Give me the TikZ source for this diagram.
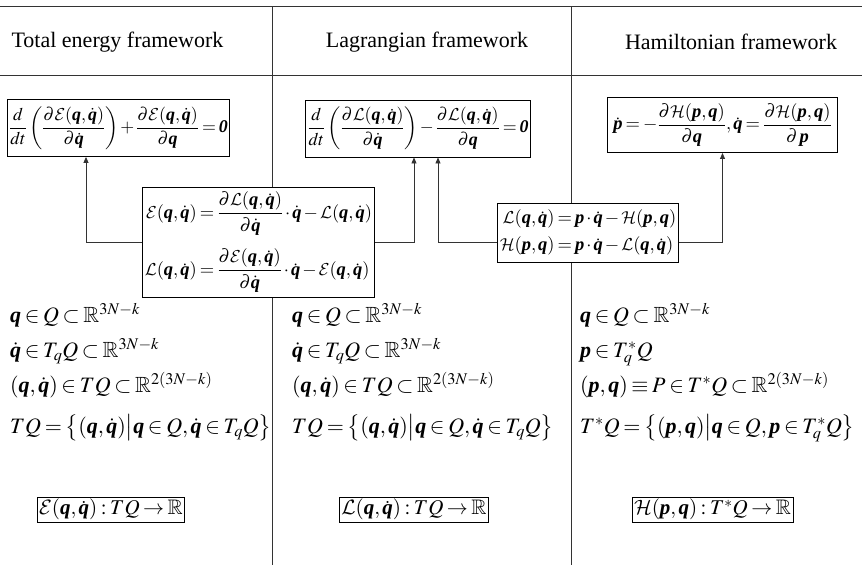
\documentclass[tikz,border=0pt]{standalone}
\usepackage{amsmath}
\usepackage{mathptmx}
\usepackage{amssymb}
\usepackage[no-math]{fontspec}
\setmainfont{Liberation Serif}
\usetikzlibrary{arrows.meta}
\DeclareMathAlphabet{\mathcal}{OMS}{lmsy}{m}{n}
\newcommand{\bq}{\text{\bfseries\itshape q}}
\newcommand{\bp}{\text{\bfseries\itshape p}}
\newcommand{\bzero}{\text{\bfseries\itshape 0}}
\newcommand{\dq}{\dot{\bq}}
\newcommand{\dbp}{\dot{\bp}}
\newcommand{\cE}{\mathcal{E}}
\newcommand{\cL}{\mathcal{L}}
\newcommand{\cH}{\mathcal{H}}
\newcommand{\qqd}{{\left(\bq,\dq\right)}}
\newcommand{\pqv}{{\left(\bp,\bq\right)}}
\newcommand{\RR}{\mathbb{R}}
\newcommand{\tightmath}{\thickmuskip=3mu plus 1mu\medmuskip=2mu plus 1mu}
\begin{document}
\begin{tikzpicture}[x=1pt,y=-1pt,
  every node/.style={font=\fontsize{22}{26}\selectfont\tightmath, inner sep=0pt},
  eqbox/.style={draw, line width=0.9pt, fill=white, inner xsep=2pt, inner ysep=5pt,
    font=\fontsize{18.5}{22}\selectfont\tightmath},
  elbox/.style={eqbox, inner ysep=7pt, font=\fontsize{17.9}{21}\selectfont\tightmath},
  smallbox/.style={draw, line width=0.9pt, fill=white, inner xsep=2pt, inner ysep=2pt,
    font=\fontsize{21}{25}\selectfont\tightmath},
  rule/.style={line width=0.8pt, draw=black!80},
  link/.style={line width=0.8pt, draw=black!80, -{Triangle[length=6pt,width=5pt]}},
  mline/.style={anchor=base west}]
\useasboundingbox (0,0) rectangle (862,565);
% table rules
\draw[rule] (0,6) -- (862,6);
\draw[rule] (0,75) -- (862,75);
\draw[rule] (272,6) -- (272,565);
\draw[rule] (571,6) -- (571,565);
% headers
\node (h1) at (117.5,42) {Total energy framework};
\node (h2) at (427,42) {Lagrangian framework};
\node (h3) at (731,42) {Hamiltonian framework};
% equations of motion
\node[elbox] (box1) at (118.5,128) {$\displaystyle \frac{d}{dt}\left(\frac{\partial\cE\qqd}{\partial\dq}\right)+\frac{\partial\cE\qqd}{\partial\bq}=\bzero$};
\node[elbox] (box2) at (418,128.5) {$\displaystyle \frac{d}{dt}\left(\frac{\partial\cL\qqd}{\partial\dq}\right)-\frac{\partial\cL\qqd}{\partial\bq}=\bzero$};
\node[eqbox, inner xsep=6pt, inner ysep=6pt] (box3) at (722.5,125) {$\displaystyle \dbp=-\frac{\partial\cH\pqv}{\partial\bq},\dq=\frac{\partial\cH\pqv}{\partial\,\bp}$};
% transforms
\node[eqbox] (cbox) at (258.5,242) {$\displaystyle \begin{aligned}\cE\qqd&=\frac{\partial\cL\qqd}{\partial\dq}\cdot\dq-\cL\qqd\\[10pt]\cL\qqd&=\frac{\partial\cE\qqd}{\partial\dq}\cdot\dq-\cE\qqd\end{aligned}$};
\node[eqbox] (lhbox) at (588,232.5) {$\begin{aligned}\cL\qqd&=\bp\cdot\dq-\cH\pqv\\[2pt]\cH\pqv&=\bp\cdot\dq-\cL\qqd\end{aligned}$};
% connectors
\draw[link] (cbox.west) -| ([xshift=-32.5pt]box1.south);
\draw[link] (cbox.east) -| ([xshift=-4pt]box2.south);
\draw[link] (lhbox.west |- cbox.west) -| ([xshift=20pt]box2.south);
\draw[link] (lhbox.east |- cbox.east) -| (box3.south);
% spaces: total energy
\node[mline] (e1) at (10,322) {$\bq\in Q\subset\RR^{3N-k}$};
\node[mline] (e2) at (10,357) {$\dq\in T_qQ\subset\RR^{3N-k}$};
\node[mline] (e3) at (10,392) {$\qqd\in TQ\subset\RR^{2\left(3N-k\right)}$};
\node[mline] (e4) at (10,433) {$TQ=\left\{\qqd\middle|\bq\in Q,\dq\in T_qQ\right\}$};
\node[smallbox] (ebox) at (111,509.5) {$\cE\qqd:TQ\to\RR$};
% spaces: Lagrangian
\node[mline] (l1) at (292,322) {$\bq\in Q\subset\RR^{3N-k}$};
\node[mline] (l2) at (292,357) {$\dq\in T_qQ\subset\RR^{3N-k}$};
\node[mline] (l3) at (292,392) {$\qqd\in TQ\subset\RR^{2\left(3N-k\right)}$};
\node[mline] (l4) at (292,433) {$TQ=\left\{\qqd\middle|\bq\in Q,\dq\in T_qQ\right\}$};
\node[smallbox] (lbox) at (414,509.5) {$\cL\qqd:TQ\to\RR$};
% spaces: Hamiltonian
\node[mline] (p1) at (580,322) {$\bq\in Q\subset\RR^{3N-k}$};
\node[mline] (p2) at (580,357) {$\bp\in T_q^*Q$};
\node[mline] (p3) at (580,392) {$\pqv\equiv P\in T^*Q\subset\RR^{2\left(3N-k\right)}$};
\node[mline] (p4) at (580,433) {$T^*Q=\left\{\pqv\middle|\bq\in Q,\bp\in T_q^*Q\right\}$};
\node[smallbox] (hbox) at (712.5,509.5) {$\cH\pqv:T^*Q\to\RR$};
\end{tikzpicture}
\end{document}
